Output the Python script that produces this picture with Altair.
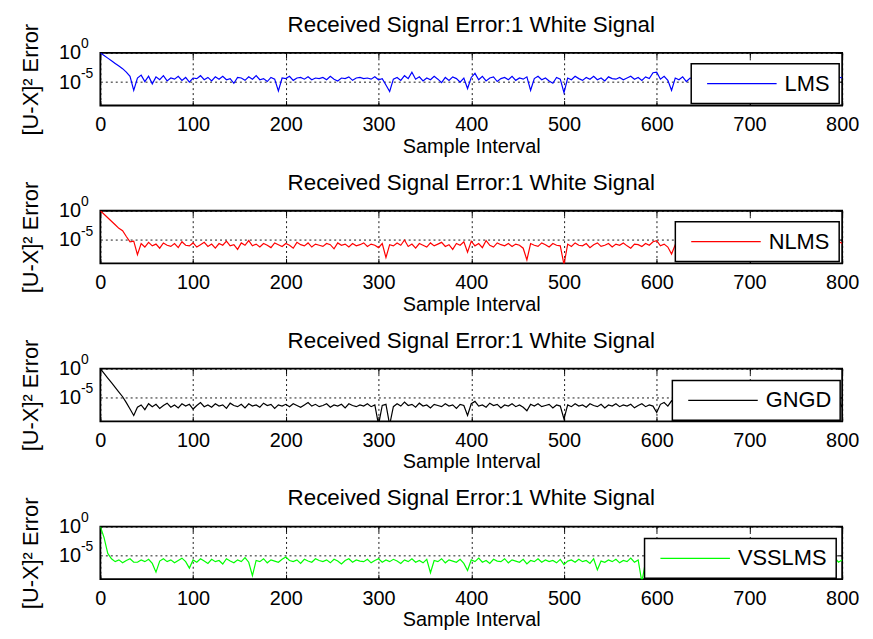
import altair as alt
import pandas as pd

# sample index (every 4th sample of the 0..800 interval)
samples = list(range(0, 801, 4))

# log10 of the squared error
lms_log = [
    0, -0.45, -0.9, -1.35, -1.8, -2.25, -2.7, -3.3, -4.0, -6.4,
    -4.3, -3.8, -4.9, -4.0, -5.3, -4.1, -4.6, -3.9, -4.8, -4.3,
    -4.5, -4.0, -4.7, -4.2, -5.0, -4.3, -4.4, -3.9, -4.6, -4.2,
    -4.8, -4.1, -4.5, -4.0, -4.6, -4.4, -5.2, -4.2, -4.3, -4.7,
    -4.1, -4.5, -3.9, -4.6, -4.4, -4.9, -4.2, -4.5, -6.5, -4.3,
    -4.4, -4.0, -4.7, -4.3, -4.2, -4.5, -4.1, -4.6, -4.3, -4.4,
    -4.2, -4.6, -4.0, -4.5, -4.8, -4.3, -4.4, -4.1, -4.7, -4.3,
    -4.2, -4.4, -4.3, -4.5, -4.1, -4.6, -4.4, -5.5, -6.6, -4.5,
    -4.2, -4.7, -3.9, -4.4, -3.3, -4.5, -4.1, -4.8, -4.3, -4.6,
    -4.0, -4.5, -5.1, -4.2, -4.7, -4.1, -4.4, -5.0, -4.3, -6.1,
    -4.2, -3.5, -4.6, -4.0, -4.8, -4.3, -4.1, -4.9, -4.4, -4.2,
    -4.6, -4.0, -4.7, -4.3, -4.5, -4.1, -6.4, -4.4, -4.0, -4.6,
    -4.3, -4.8, -5.2, -4.2, -4.5, -6.8, -4.3, -4.6, -4.0, -4.4,
    -4.7, -4.2, -4.5, -4.0, -4.6, -4.3, -4.8, -4.1, -4.4, -4.5,
    -4.2, -4.6, -4.3, -4.0, -4.5, -4.2, -4.7, -4.1, -4.4, -3.4,
    -3.3, -4.5, -4.0, -4.7, -6.4, -4.3, -4.6, -4.1, -4.9, -4.3,
    -4.4, -4.2, -4.7, -4.0, -4.5, -4.3, -4.8, -4.2, -4.4, -4.6,
    -4.1, -4.5, -4.3, -4.7, -4.0, -4.4, -4.6, -4.2, -4.5, -4.3,
    -4.6, -4.1, -4.4, -4.8, -4.2, -4.5, -4.3, -4.0, -4.6, -4.4,
    -4.2, -4.7, -4.3, -4.5, -4.1, -4.6, -4.4, -4.2, -4.9, -4.1,
    -4.3,
]

nlms_log = [
    0, -0.6, -1.2, -1.8, -2.4, -3.0, -3.4, -4.4, -5.3, -5.2,
    -7.5, -5.6, -6.2, -5.4, -6.0, -5.7, -6.4, -5.5, -5.9, -6.1,
    -5.6, -6.3, -5.3, -5.9, -6.0, -5.5, -6.2, -5.8, -5.4, -6.1,
    -5.7, -6.4, -5.6, -5.9, -5.2, -6.0, -5.8, -6.6, -5.5, -5.9,
    -5.1, -6.0, -5.7, -6.2, -5.6, -5.9, -6.3, -5.5, -5.8, -6.1,
    -5.6, -5.9, -6.4, -5.4, -5.8, -6.0, -5.5, -6.2, -5.7, -5.9,
    -6.1, -5.6, -5.8, -6.5, -5.5, -5.9, -5.7, -6.2, -5.6, -6.0,
    -5.8, -5.5, -6.1, -5.7, -5.9, -6.3, -5.6, -8.0, -5.8, -6.0,
    -5.5, -5.9, -5.0, -6.1, -5.7, -6.4, -5.6, -5.9, -6.2, -5.5,
    -6.0, -5.7, -5.4, -6.1, -5.8, -6.6, -5.6, -5.9, -5.3, -7.1,
    -5.2, -6.0, -5.6, -6.3, -5.1, -5.9, -6.2, -5.5, -5.8, -6.0,
    -5.6, -6.1, -5.7, -5.9, -6.4, -8.4, -5.6, -5.9, -6.1, -5.5,
    -5.8, -6.2, -5.6, -5.9, -6.0, -9.2, -5.7, -6.1, -5.5, -5.9,
    -6.0, -5.6, -6.3, -5.8, -5.5, -6.1, -5.9, -5.6, -6.2, -5.7,
    -5.9, -5.5, -6.0, -6.4, -5.7, -5.8, -6.1, -5.6, -5.9, -5.3,
    -5.1, -6.0, -5.7, -6.2, -7.4, -5.8, -6.0, -5.6, -6.1, -5.9,
    -5.7, -6.0, -5.8, -6.2, -5.6, -5.9, -6.1, -5.7, -5.9, -6.0,
    -5.8, -5.6, -6.1, -5.9, -5.7, -6.0, -5.8, -6.2, -5.6, -5.9,
    -6.0, -5.7, -5.9, -6.1, -5.6, -5.8, -6.2, -5.7, -5.9, -6.0,
    -5.8, -6.1, -5.6, -5.9, -6.0, -5.7, -5.9, -6.3, -5.7, -5.2,
    -5.6,
]

gngd_log = [
    0, -0.8, -1.6, -2.4, -3.2, -4.0, -4.8, -5.8, -6.9, -8.0,
    -6.6, -6.2, -7.0, -6.0, -6.5, -6.1, -6.8, -6.3, -5.9, -6.6,
    -6.2, -6.7, -6.0, -6.4, -6.1, -6.9, -6.3, -5.8, -6.5, -6.2,
    -6.6, -6.0, -6.4, -6.2, -6.8, -5.9, -6.3, -6.5, -6.1, -6.7,
    -6.0, -6.4, -6.2, -6.6, -5.9, -6.3, -6.1, -6.8, -6.2, -6.4,
    -6.1, -6.5, -6.0, -6.3, -6.6, -6.2, -5.8, -6.4, -6.1, -6.5,
    -6.3, -6.0, -6.6, -6.2, -6.4, -6.1, -6.7, -6.0, -6.3, -6.5,
    -6.2, -6.4, -6.0, -6.5, -6.2, -9.6, -6.3, -6.1, -9.6, -6.5,
    -6.0, -6.4, -5.7, -6.3, -6.1, -6.6, -5.9, -6.4, -6.2, -6.7,
    -6.1, -6.3, -6.5, -6.0, -6.4, -6.2, -6.8, -6.1, -6.3, -8.0,
    -6.0, -5.6, -6.4, -6.2, -6.6, -5.9, -6.3, -6.1, -6.7, -6.2,
    -6.4, -6.0, -6.5, -6.2, -6.6, -7.2, -6.1, -6.4, -6.0, -6.5,
    -6.3, -6.1, -6.7, -6.2, -6.4, -8.6, -6.2, -6.5, -6.0, -6.4,
    -6.2, -6.6, -6.0, -6.3, -6.5, -6.1, -6.7, -6.2, -6.4, -6.0,
    -6.5, -6.2, -6.4, -6.1, -6.7, -6.3, -6.0, -6.5, -6.2, -6.4,
    -7.5, -6.1, -5.8, -6.4, -5.5, -6.2, -6.5, -6.0, -6.3, -6.4,
    -6.2, -6.5, -6.1, -6.4, -6.0, -6.6, -6.3, -6.1, -6.5, -6.2,
    -6.4, -6.0, -6.6, -6.2, -6.3, -6.5, -6.1, -6.4, -6.2, -6.6,
    -6.1, -6.4, -6.2, -6.5, -6.0, -6.3, -6.6, -6.2, -6.4, -6.1,
    -6.5, -6.2, -6.0, -6.4, -6.3, -6.6, -6.1, -6.4, -7.0, -5.2,
    -6.6,
]

vsslms_log = [
    0, -1.9, -4.6, -5.5, -6.0, -5.7, -6.2, -5.8, -5.5, -6.1,
    -6.1, -5.7, -6.0, -5.6, -6.3, -7.8, -5.9, -5.5, -6.0, -5.7,
    -6.2, -5.8, -5.4, -6.0, -7.1, -5.7, -6.1, -5.5, -5.9, -6.3,
    -5.6, -6.0, -5.8, -6.4, -5.5, -5.9, -6.2, -5.7, -6.0, -5.3,
    -6.1, -8.4, -5.8, -6.0, -5.5, -6.2, -5.7, -5.9, -6.1, -5.6,
    -5.2, -5.8, -6.0, -5.7, -6.3, -5.6, -5.9, -6.1, -5.5, -5.8,
    -6.0, -5.7, -6.2, -5.6, -5.9, -6.4, -5.8, -5.5, -6.1, -5.7,
    -5.9, -6.0, -5.6, -6.2, -5.8, -5.5, -6.1, -5.7, -6.0, -5.6,
    -5.9, -6.3, -5.7, -6.0, -5.5, -6.1, -5.8, -6.2, -5.6, -7.9,
    -5.8, -6.0, -5.5, -6.2, -5.7, -5.9, -6.1, -5.6, -6.3, -7.5,
    -5.7, -6.0, -5.4, -6.1, -5.8, -6.3, -5.6, -5.9, -6.0, -5.5,
    -6.2, -5.7, -5.9, -6.1, -5.6, -6.4, -5.8, -6.0, -5.5, -6.1,
    -5.7, -6.0, -5.8, -6.2, -5.6, -6.5, -5.9, -5.7, -6.1, -5.6,
    -6.0, -5.8, -6.3, -5.5, -7.4, -5.9, -6.1, -5.7, -6.0, -5.6,
    -6.2, -5.8, -6.0, -5.4, -6.1, -5.7, -9.5, -5.9, -6.0, -5.8,
    -6.0, -5.7, -6.1, -5.8, -5.6, -6.2, -5.9, -5.7, -6.0, -5.8,
    -5.6, -6.1, -5.9, -5.7, -6.2, -5.8, -6.0, -5.6, -5.9, -6.1,
    -5.7, -6.0, -5.8, -6.2, -5.6, -5.9, -6.1, -5.7, -6.0, -5.8,
    -6.1, -5.7, -5.9, -6.0, -5.6, -6.2, -5.8, -6.0, -5.7, -5.9,
    -6.0, -5.8, -6.1, -5.6, -5.9, -6.0, -5.7, -6.2, -5.3, -6.1,
    -5.7,
]

series_names = ["LMS", "NLMS", "GNGD", "VSSLMS"]
series_logs = [lms_log, nlms_log, gngd_log, vsslms_log]
series_colors = ["#0000ff", "#ff0000", "#000000", "#00ff00"]
legend_left = [595, 579, 576, 548]
legend_top = [11, 11, 12, 12]

x_ticks = [0, 100, 200, 300, 400, 500, 600, 700, 800]
y_ticks = [1e0, 1e-5]
y_domain = [1e-9, 1e0]
title_text = "Received Signal Error:1 White Signal"
FONT = "Liberation Sans"


def panel(name, logs, color, lx, ly):
    df = pd.DataFrame({
        "Sample": samples,
        "Error": [10 ** v for v in logs],
        "Series": [name] * len(samples),
    })
    xs = alt.Scale(domain=[0, 800], nice=False, zero=False)
    ys = alt.Scale(type="log", domain=y_domain, nice=False)

    line = alt.Chart(df).mark_line(clip=True, strokeWidth=1.2).encode(
        x=alt.X("Sample:Q", scale=xs, axis=alt.Axis(
            values=x_ticks, orient="bottom", title="Sample Interval",
            grid=True, gridColor="black", gridDash=[2, 3], gridWidth=0.9, gridOpacity=1,
            domain=False, ticks=False, labelFontSize=20, labelColor="black",
            labelFlush=False, labelOverlap=False,
            labelPadding=9, titleFontSize=20, titleFontWeight="normal",
            titleColor="black", titlePadding=2)),
        y=alt.Y("Error:Q", scale=ys, axis=alt.Axis(
            values=y_ticks, orient="left", labelExpr="'10'",
            grid=True, gridColor="black", gridDash=[2, 3], gridWidth=0.9, gridOpacity=1,
            domain=False, ticks=False, labelFontSize=20, labelColor="black",
            labelFlush=False, labelOverlap=False,
            labelAlign="right", labelBaseline="middle", labelPadding=20,
            title="[U-X]² Error", titleFontSize=22, titleFontWeight="normal",
            titleColor="black", titlePadding=16)),
        color=alt.Color("Series:N",
                        scale=alt.Scale(domain=[name], range=[color]),
                        legend=alt.Legend(
                            orient="none", legendX=lx, legendY=ly, title=None,
                            symbolType="M-1,0H9", symbolSize=196,
                            symbolStrokeWidth=1.3, symbolOffset=3,
                            labelFontSize=22, labelColor="black",
                            labelOffset=60, padding=9,
                            strokeColor="black", fillColor="white")),
    )

    # superscript exponents of the y tick labels + inward ticks on top
    ghost1 = alt.Chart(df).mark_line(opacity=0).encode(
        x=alt.X("Sample:Q", scale=xs, axis=alt.Axis(
            values=x_ticks, orient="top", offset=-5, tickSize=5, ticks=True,
            tickColor="black", tickWidth=1, labels=False, domain=False,
            grid=False, title=None)),
        y=alt.Y("Error:Q", scale=ys, axis=alt.Axis(
            values=y_ticks, orient="left",
            labelExpr="'' + round(log(datum.value) / LN10)",
            labelFontSize=14, labelColor="black", labelAlign="left",
            labelFlush=False, labelOverlap=False,
            labelBaseline="middle", labelOffset=-9, labelPadding=20,
            ticks=False, domain=False, grid=False, title=None)),
    )
    # inward ticks on bottom / right
    ghost2 = alt.Chart(df).mark_line(opacity=0).encode(
        x=alt.X("Sample:Q", scale=xs, axis=alt.Axis(
            values=x_ticks, orient="bottom", offset=-5, tickSize=5, ticks=True,
            tickColor="black", tickWidth=1, labels=False, domain=False,
            grid=False, title=None)),
        y=alt.Y("Error:Q", scale=ys, axis=alt.Axis(
            values=y_ticks, orient="right", offset=-5, tickSize=5, ticks=True,
            tickColor="black", tickWidth=1, labels=False, domain=False,
            grid=False, title=None)),
    )

    return alt.layer(line, ghost1, ghost2).resolve_axis(
        x="independent", y="independent"
    ).properties(
        width=747, height=53,
        title=alt.Title(title_text, fontSize=22.5, fontWeight="normal",
                        color="black", anchor="middle", offset=8, dy=21),
    )


panels = [panel(n, l, c, lx, ly) for n, l, c, lx, ly in
          zip(series_names, series_logs, series_colors, legend_left, legend_top)]

chart = alt.vconcat(*panels, spacing=106, bounds="flush").resolve_scale(
    color="independent"
).resolve_legend(color="independent").configure(
    font=FONT, padding={"left": 10, "top": 2, "right": 5, "bottom": 0}
).configure_view(stroke="black", strokeWidth=1.8).configure_legend(
    strokeWidth=1.5
)

chart.save("out.html", embed_options={"renderer": "svg", "actions": False})
